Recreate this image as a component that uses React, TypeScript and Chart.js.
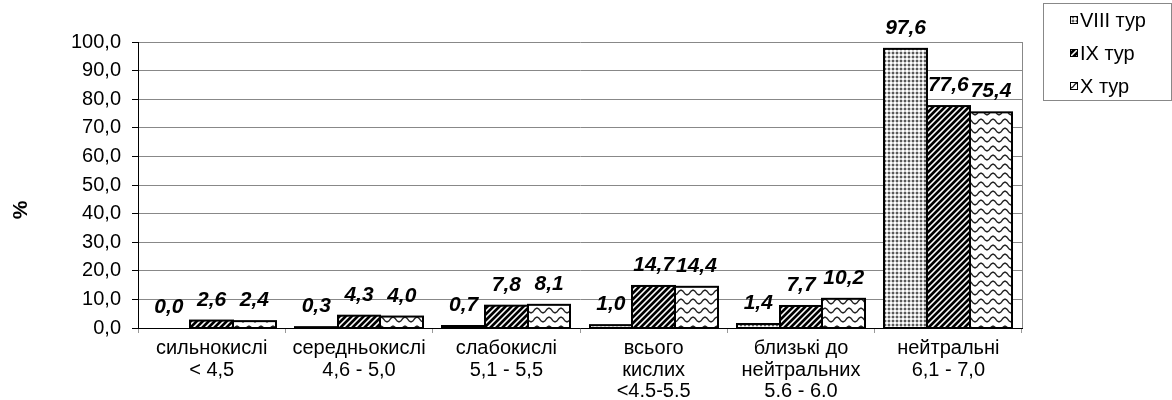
import React, { useEffect, useRef } from 'react';
import { Chart, registerables } from 'chart.js';

Chart.register(...registerables);

const categories: string[][] = [
  ['сильнокислі', '< 4,5'],
  ['середньокислі', '4,6 - 5,0'],
  ['слабокислі', '5,1 - 5,5'],
  ['всього', 'кислих', '<4.5-5.5'],
  ['близькі до', 'нейтральних', '5.6 - 6.0'],
  ['нейтральні', '6,1 - 7,0'],
];
const seriesNames = ['VIII тур', 'IX тур', 'X тур'];
const tour8 = [0.0, 0.3, 0.7, 1.0, 1.4, 97.6];
const tour9 = [2.6, 4.3, 7.8, 14.7, 7.7, 77.6];
const tour10 = [2.4, 4.0, 8.1, 14.4, 10.2, 75.4];
const yMin = 0;
const yMax = 100;
const yStep = 10;
const yTitle = '%';

const FONT = '"Liberation Sans", Arial, sans-serif';

function fmt(v: number) {
  return v.toFixed(1).replace('.', ',');
}

function makeTile(w: number, h: number, draw: (ctx: CanvasRenderingContext2D) => void) {
  const c = document.createElement('canvas');
  c.width = w;
  c.height = h;
  const ctx = c.getContext('2d')!;
  ctx.fillStyle = '#ffffff';
  ctx.fillRect(0, 0, w, h);
  draw(ctx);
  return c;
}

function makePatterns(ctx: CanvasRenderingContext2D) {
  const dots = makeTile(4, 4, (t) => {
    t.fillStyle = '#d0d0d0';
    t.fillRect(2, 0, 2, 2);
    t.fillRect(0, 2, 2, 2);
    t.fillStyle = '#5a5a5a';
    t.fillRect(0, 0, 2, 2);
  });
  const diag = makeTile(6, 6, (t) => {
    const img = t.getImageData(0, 0, 6, 6);
    for (let y = 0; y < 6; y++) {
      for (let x = 0; x < 6; x++) {
        const m = (x + y) % 6;
        const i = (y * 6 + x) * 4;
        let v = 255;
        if (m < 3) v = 0;
        else if (m === 3 || m === 5) v = 150;
        img.data[i] = v;
        img.data[i + 1] = v;
        img.data[i + 2] = v;
        img.data[i + 3] = 255;
      }
    }
    t.putImageData(img, 0, 0);
  });
  const wave = makeTile(12, 9, (t) => {
    t.strokeStyle = '#222222';
    t.lineWidth = 1.4;
    for (const off of [-9, 0, 9]) {
      t.beginPath();
      for (let x = -2; x <= 14; x += 0.5) {
        const y = 4.5 + off + 2.3 * Math.sin((2 * Math.PI * x) / 12);
        if (x === -2) t.moveTo(x, y);
        else t.lineTo(x, y);
      }
      t.stroke();
    }
  });
  return [
    ctx.createPattern(dots, 'repeat')!,
    ctx.createPattern(diag, 'repeat')!,
    ctx.createPattern(wave, 'repeat')!,
  ];
}

export default function App() {
  const ref = useRef<HTMLCanvasElement | null>(null);

  useEffect(() => {
    const canvas = ref.current!;
    const ctx = canvas.getContext('2d')!;
    const patterns = makePatterns(ctx);

    const extras = {
      id: 'extras',
      afterDatasetsDraw(chart: any) {
        const c = chart.ctx as CanvasRenderingContext2D;
        c.save();
        c.strokeStyle = '#000';
        c.lineWidth = 2;
        chart.data.datasets.forEach((_ds: any, di: number) => {
          const meta = chart.getDatasetMeta(di);
          meta.data.forEach((bar: any) => {
            const h = bar.base - bar.y;
            if (h < 0.1) return;
            const x0 = Math.round(bar.x - bar.width / 2);
            const x1 = Math.round(bar.x + bar.width / 2);
            const y0 = bar.y;
            const y1 = Math.round(bar.base);
            c.strokeRect(x0, y0, x1 - x0, y1 - y0);
          });
        });
        c.restore();
      },
      afterDraw(chart: any) {
        const c = chart.ctx as CanvasRenderingContext2D;
        const area = chart.chartArea;
        c.save();
        // right border of plot area
        c.strokeStyle = '#888888';
        c.lineWidth = 1;
        c.beginPath();
        c.moveTo(Math.round(area.right) + 0.5, area.top);
        c.lineTo(Math.round(area.right) + 0.5, area.bottom);
        c.stroke();

        // data labels
        c.fillStyle = '#000';
        c.font = `italic bold 21px ${FONT}`;
        c.textAlign = 'center';
        c.textBaseline = 'alphabetic';
        chart.data.datasets.forEach((ds: any, di: number) => {
          const meta = chart.getDatasetMeta(di);
          meta.data.forEach((bar: any, i: number) => {
            c.fillText(fmt(ds.data[i]), bar.x, bar.y - 15);
          });
        });

        // y title
        c.save();
        c.translate(21, 210);
        c.rotate(-Math.PI / 2);
        c.font = `bold 21px ${FONT}`;
        c.textAlign = 'center';
        c.textBaseline = 'middle';
        c.fillText(yTitle, 0, 0);
        c.restore();

        // legend
        const lx = 1043.5, ly = 3.5, lw = 128, lh = 97;
        c.strokeStyle = '#888888';
        c.lineWidth = 1;
        c.strokeRect(lx, ly, lw, lh);
        c.font = `20px ${FONT}`;
        c.textAlign = 'left';
        c.textBaseline = 'middle';
        seriesNames.forEach((name, i) => {
          const cy = 20 + i * 33;
          c.fillStyle = patterns[i];
          c.fillRect(1070, cy - 4, 8, 8);
          c.strokeStyle = '#000';
          c.lineWidth = 1;
          c.strokeRect(1070.5, cy - 3.5, 7, 7);
          c.fillStyle = '#000';
          c.fillText(name, 1080, cy + 1);
        });
        c.restore();
      },
    };

    const chart = new Chart(ctx, {
      type: 'bar',
      data: {
        labels: categories,
        datasets: [tour8, tour9, tour10].map((d, i) => ({
          label: seriesNames[i],
          data: d,
          backgroundColor: patterns[i],
          borderColor: '#000000',
          borderWidth: 0,
          inflateAmount: 0,
          categoryPercentage: 0.87,
          barPercentage: 1.0,
        })),
      },
      options: {
        animation: false,
        responsive: false,
        maintainAspectRatio: false,
        layout: { padding: { left: 0, top: 42, right: 150, bottom: 0 } },
        plugins: {
          legend: { display: false },
          tooltip: { enabled: false },
          title: { display: false },
        },
        scales: {
          x: {
            afterFit: (s: any) => {
              s.height = 72;
            },
            grid: {
              display: true,
              offset: true,
              drawOnChartArea: false,
              drawTicks: true,
              tickLength: 5,
              tickColor: '#999999',
            },
            border: { color: '#000000', width: 1 },
            ticks: {
              color: '#000000',
              font: { family: FONT, size: 20, lineHeight: 1.07 },
              padding: 5,
              maxRotation: 0,
              autoSkip: false,
            },
          },
          y: {
            min: yMin,
            max: yMax,
            afterFit: (s: any) => {
              s.width = 138;
            },
            grid: {
              color: '#888888',
              lineWidth: 1,
              tickLength: 6,
              tickColor: '#000000',
            },
            border: { color: '#000000', width: 1 },
            ticks: {
              stepSize: yStep,
              color: '#000000',
              font: { family: FONT, size: 20 },
              padding: 11,
              callback: (v: any) => fmt(Number(v)),
            },
          },
        },
      },
      plugins: [extras],
    });
    return () => chart.destroy();
  }, []);

  return (
    <div style={{ position: 'absolute', left: 0, top: 0, width: 1172, height: 400, background: '#fff' }}>
      <canvas ref={ref} width={1172} height={400} style={{ display: 'block' }} />
    </div>
  );
}
